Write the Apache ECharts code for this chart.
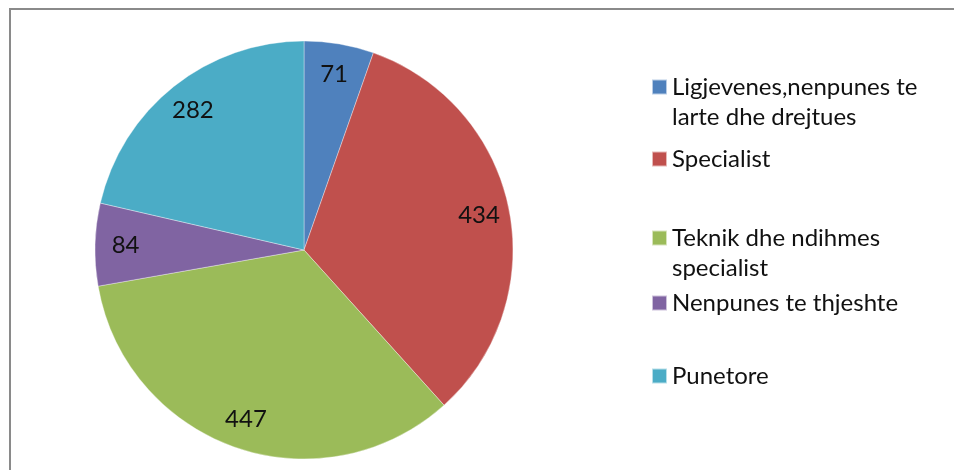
<!DOCTYPE html>
<html>
<head>
<meta charset="utf-8">
<script src="https://cdn.jsdelivr.net/npm/echarts@6/dist/echarts.min.js"></script>
<style>
  html, body { margin: 0; padding: 0; background: #fff; }
  #main { width: 954px; height: 470px; }
</style>
</head>
<body>
<div id="main"></div>
<script>
// categories and values
const categories = [
  'Ligjevenes,nenpunes te larte dhe drejtues',
  'Specialist',
  'Teknik dhe ndihmes specialist',
  'Nenpunes te thjeshte',
  'Punetore'
];
const values = [71, 434, 447, 84, 282];
const colors = ['#4F81BD', '#C0504D', '#9BBB59', '#8064A2', '#4BACC6'];

// how the legend wraps the long names (leading blank line keeps the
// square level with the first line)
const legendText = {
  'Ligjevenes,nenpunes te larte dhe drejtues': ' \nLigjevenes,nenpunes te\nlarte dhe drejtues',
  'Teknik dhe ndihmes specialist': ' \nTeknik dhe ndihmes\nspecialist'
};
const legendTops = [42, 144, 193, 288, 361];

const FONT = 'Lato';
const chartDom = document.getElementById('main');
const myChart = echarts.init(chartDom);

const pieData = categories.map((name, i) => ({
  name: name,
  value: values[i],
  itemStyle: { color: colors[i] }
}));

const legends = categories.map((name, i) => ({
  data: [name],
  left: 651,
  top: legendTops[i],
  orient: 'vertical',
  padding: 0,
  itemWidth: 15,
  itemHeight: 15,
  itemGap: 0,
  icon: 'rect',
  selectedMode: false,
  formatter: n => legendText[n] || n,
  textStyle: {
    fontFamily: FONT,
    fontSize: 24,
    color: '#111',
    lineHeight: 30
  }
}));

const option = {
  backgroundColor: '#fff',
  animation: false,
  legend: legends,
  graphic: [
    {
      type: 'rect',
      shape: { x: 10, y: 9, width: 1000, height: 500 },
      style: { fill: 'none', stroke: '#8a8a8a', lineWidth: 2 },
      silent: true
    }
  ],
  series: [
    {
      // filled slices
      name: 'fill',
      type: 'pie',
      center: [304, 250],
      radius: [0, 209],
      startAngle: 90,
      clockwise: true,
      label: { show: false },
      labelLine: { show: false },
      itemStyle: { borderColor: 'rgba(255,255,255,0.6)', borderWidth: 0.6 },
      emphasis: { disabled: true },
      data: pieData
    },
    {
      // transparent ring only to place the value labels near the rim
      name: 'labels',
      type: 'pie',
      center: [304, 250],
      radius: [142, 209],
      startAngle: 90,
      clockwise: true,
      silent: true,
      legendHoverLink: false,
      itemStyle: { color: 'transparent', borderWidth: 0 },
      label: {
        show: true,
        position: 'inside',
        formatter: '{c}',
        fontFamily: FONT,
        fontSize: 24,
        color: '#111'
      },
      labelLine: { show: false },
      emphasis: { disabled: true },
      data: values.map((v, i) => ({ name: categories[i] + ' ', value: v }))
    }
  ]
};

myChart.setOption(option);
</script>
</body>
</html>
